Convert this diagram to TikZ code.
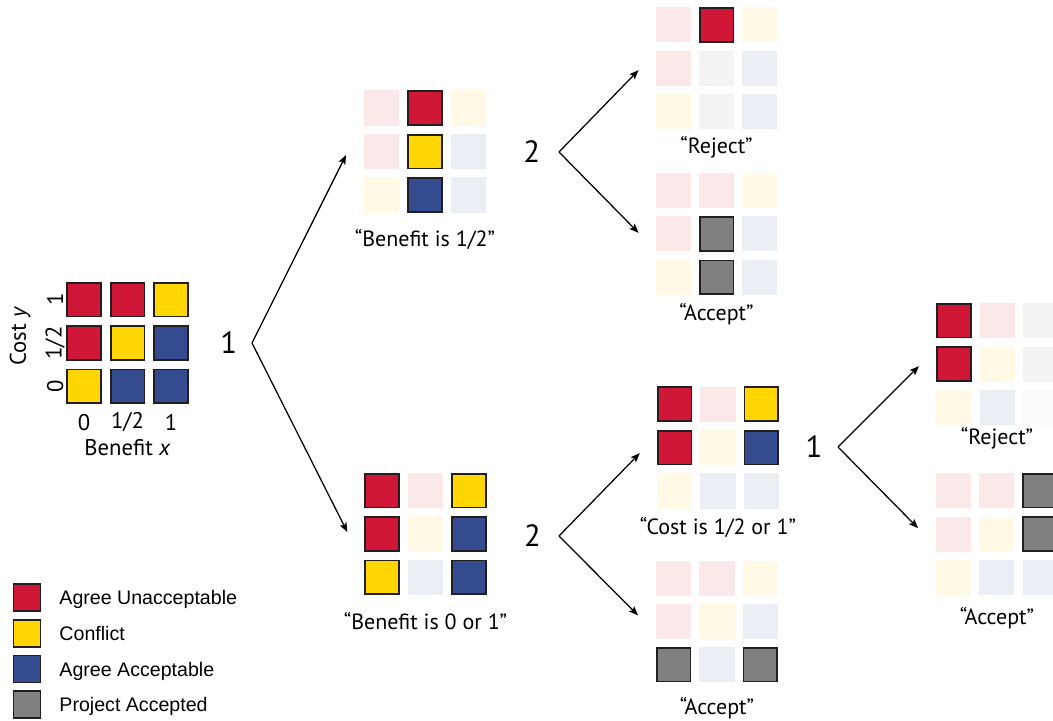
\documentclass[tikz,border=0pt]{standalone}
\usepackage{fontspec}
\setmainfont{PT Sans}
\newfontfamily\keyfont{Liberation Sans}
\usetikzlibrary{positioning, arrows.meta, calc, matrix}
\definecolor{coloredge}{HTML}{231F20}
\definecolor{colorunacc}{HTML}{D01737}
\definecolor{colorconflict}{HTML}{FFD502}
\definecolor{coloracc}{HTML}{344C8F}
\definecolor{colorproject}{HTML}{808080}
\definecolor{paleunacc}{HTML}{FBE8E8}
\definecolor{paleconflict}{HTML}{FFF9E5}
\definecolor{paleacc}{HTML}{ECEEF6}
\definecolor{paleproject}{HTML}{F3F3F3}
\definecolor{paleblank}{HTML}{FBFBFB}

\begin{document}
\begin{tikzpicture}[
    x=0.75pt, y=0.75pt,
    % Solid squares with an outline
    cell/.style={
        rectangle,
        draw=coloredge,
        line width=1.3pt,
        minimum size=25.3pt,
        inner sep=0pt,
        outer sep=0pt
    },
    cu/.style={cell, fill=colorunacc},
    cf/.style={cell, fill=colorconflict},
    ca/.style={cell, fill=coloracc},
    cp/.style={cell, fill=colorproject},
    % Faded squares, no outline
    pale/.style={
        rectangle,
        minimum size=26.4pt,
        inner sep=0pt,
        outer sep=0pt
    },
    fu/.style={pale, fill=paleunacc},
    ff/.style={pale, fill=paleconflict},
    fa/.style={pale, fill=paleacc},
    fp/.style={pale, fill=paleproject},
    fw/.style={pale, fill=paleblank},
    % 3x3 block of squares
    grid/.style={
        matrix of nodes,
        nodes in empty cells,
        column sep=6pt,
        row sep=6pt,
        inner sep=0pt,
        nodes={anchor=center}
    },
    quote/.style={inner sep=0pt, anchor=base, font=\fontsize{16.5}{19}\selectfont},
    axis/.style={inner sep=0pt, font=\fontsize{17}{20}\selectfont},
    branchnum/.style={inner sep=0pt, font=\fontsize{23}{26}\selectfont},
    keybox/.style={minimum size=20.3pt},
    keytext/.style={inner sep=0pt, anchor=base west, yshift=-5.3pt,
        font=\keyfont\fontsize{14.7}{17}\selectfont},
    arrow/.style={
        -{Stealth[length=7pt, width=5.5pt, inset=1.5pt]},
        black,
        line width=0.95pt
    }
]
\useasboundingbox (0,0) rectangle (1053,-721);

% ==============================
% Full table
% ==============================
\matrix (main) [grid] at (127.5,-343) {
    |[cu]| & |[cu]| & |[cf]| \\
    |[cu]| & |[cf]| & |[ca]| \\
    |[cf]| & |[ca]| & |[ca]| \\
};

\node[axis, rotate=90] (yt1) at ($(main-1-1.west)+(-12,0)$) {1};
\node[axis, rotate=90] (yt2) at ($(main-2-1.west)+(-12,0)$) {1/2};
\node[axis, rotate=90] (yt3) at ($(main-3-1.west)+(-12,0)$) {0};
\node[axis, rotate=90] (ylab) at ($(main-2-1.west)+(-47,7)$) {Cost \textit{y}};

\node[axis] (xt1) at ($(main-3-1.south)+(0,-19)$) {0};
\node[axis] (xt2) at ($(main-3-2.south)+(0,-19)$) {1/2};
\node[axis] (xt3) at ($(main-3-3.south)+(0,-19)$) {1};
\node[axis] (xlab) at ($(main-3-2.south)+(0,-44)$) {Benefit \textit{x}};

% ==============================
% First question
% ==============================
\coordinate (fork1) at (252,-343);
\node[branchnum, left=11pt of fork1] (q1) {1};

\matrix (half) [grid] at (425,-151.5) {
    |[fu]| & |[cu]| & |[ff]| \\
    |[fu]| & |[cf]| & |[fa]| \\
    |[ff]| & |[ca]| & |[fa]| \\
};
\node[below=25.5pt of half, quote] (halflab) {“Benefit is 1/2”};

\matrix (ends) [grid] at (425.5,-534) {
    |[cu]| & |[fu]| & |[cf]| \\
    |[cu]| & |[ff]| & |[ca]| \\
    |[cf]| & |[fa]| & |[ca]| \\
};
\node[below=25.5pt of ends, quote] (endslab) {“Benefit is 0 or 1”};

% ==============================
% Second question, upper branch
% ==============================
\coordinate (fork2a) at (559,-152);
\node[branchnum, left=14pt of fork2a] (q2a) {2};

\matrix (rejA) [grid] at (716.5,-68) {
    |[fu]| & |[cu]| & |[ff]| \\
    |[fu]| & |[fp]| & |[fa]| \\
    |[ff]| & |[fp]| & |[fa]| \\
};
\node[below=18pt of rejA, quote] (rejAlab) {“Reject”};

\matrix (accA) [grid] at (716.5,-234) {
    |[fu]| & |[fu]| & |[ff]| \\
    |[fu]| & |[cp]| & |[fa]| \\
    |[ff]| & |[cp]| & |[fa]| \\
};
\node[below=18.75pt of accA, quote] (accAlab) {“Accept”};

% ==============================
% Second question, lower branch
% ==============================
\coordinate (fork2b) at (559,-536);
\node[branchnum, left=13.5pt of fork2b] (q2b) {2};

\matrix (cost) [grid] at (718,-447.5) {
    |[cu]| & |[fu]| & |[cf]| \\
    |[cu]| & |[ff]| & |[ca]| \\
    |[ff]| & |[fa]| & |[fa]| \\
};
\node[below=19.5pt of cost, quote] (costlab) {“Cost is 1/2 or 1”};

\matrix (accB) [grid] at (717,-621.5) {
    |[fu]| & |[fu]| & |[ff]| \\
    |[fu]| & |[ff]| & |[fa]| \\
    |[cp]| & |[fa]| & |[cp]| \\
};
\node[below=24pt of accB, quote] (accBlab) {“Accept”};

% ==============================
% Third question
% ==============================
\coordinate (fork3) at (838,-447);
\node[branchnum, left=11.5pt of fork3] (q3) {1};

\matrix (rejC) [grid] at (997,-364) {
    |[cu]| & |[fu]| & |[fp]| \\
    |[cu]| & |[ff]| & |[fp]| \\
    |[ff]| & |[fa]| & |[fw]| \\
};
\node[below=14.25pt of rejC, quote] (rejClab) {“Reject”};

\matrix (accC) [grid] at (997,-534) {
    |[fu]| & |[fu]| & |[cp]| \\
    |[fu]| & |[ff]| & |[cp]| \\
    |[ff]| & |[fa]| & |[fa]| \\
};
\node[below=21.75pt of accC, quote] (accClab) {“Accept”};

% ==============================
% Arrows
% ==============================
\draw[arrow] (fork1) -- ($(half-2-1.west)+(-18,-3.5)$);
\draw[arrow] (fork1) -- ($(ends-2-1.west)+(-18,2)$);
\draw[arrow] (fork2a) -- ($(rejA-2-1.west)+(-17,-2)$);
\draw[arrow] (fork2a) -- ($(accA-2-1.west)+(-17,1)$);
\draw[arrow] (fork2b) -- ($(cost-2-1.west)+(-18,-5.5)$);
\draw[arrow] (fork2b) -- ($(accB-2-1.west)+(-18,6)$);
\draw[arrow] (fork3) -- ($(rejC-2-1.west)+(-18,-2)$);
\draw[arrow] (fork3) -- ($(accC-2-1.west)+(-18,6)$);

% ==============================
% Legend
% ==============================
\node[cu, keybox] (keyu) at (27,-597.5) {};
\node[cf, keybox, below=6.5pt of keyu] (keyf) {};
\node[ca, keybox, below=6.5pt of keyf] (keya) {};
\node[cp, keybox, below=6.5pt of keya] (keyp) {};

\node[right=14pt of keyu, keytext] (keyutext) {Agree Unacceptable};
\node[right=14pt of keyf, keytext] (keyftext) {Conflict};
\node[right=14pt of keya, keytext] (keyatext) {Agree Acceptable};
\node[right=14pt of keyp, keytext] (keyptext) {Project Accepted};

\end{tikzpicture}
\end{document}
